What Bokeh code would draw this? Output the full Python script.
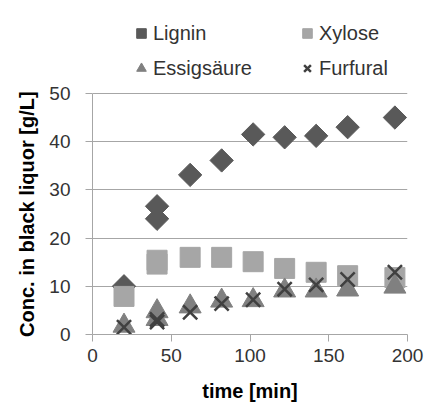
import math
from bokeh.plotting import figure
from bokeh.models import Legend, LegendItem
from bokeh.embed import file_html
from bokeh.resources import INLINE

# ---- data ----
time_min = [20, 41, 41, 62, 82, 102, 122, 142, 162, 192]
lignin = [10.0, 24.0, 26.6, 33.1, 36.1, 41.5, 40.9, 41.2, 43.0, 45.0]
xylose = [7.9, 14.6, 15.4, 16.0, 16.0, 15.1, 13.7, 12.9, 12.2, 11.8]
essigsaeure = [1.8, 3.2, 4.8, 5.8, 7.0, 7.1, 9.1, 9.1, 9.3, 9.9]
furfural = [1.5, 2.6, 3.1, 4.6, 6.4, 7.2, 9.4, 10.3, 11.4, 12.9]
x_ticks = [0, 50, 100, 150, 200]
y_ticks = [0, 10, 20, 30, 40, 50]
series_names = ["Lignin", "Xylose", "Essigsäure", "Furfural"]
x_title = "time [min]"
y_title = "Conc. in black liquor [g/L]"

FONT = "Liberation Sans"

# frame extends above y=50 to hold the legend; the axis itself is bounded to 0..50
p = figure(width=433, height=404, x_range=(0, 200), y_range=(0, 67.2),
           output_backend="svg", toolbar_location=None,
           min_border_left=92, min_border_right=26,
           min_border_top=10, min_border_bottom=70)
p.outline_line_color = None
p.background_fill_color = "white"
p.border_fill_color = "white"

r_lig = p.scatter(time_min, lignin, marker="square", size=16.5, angle=math.pi / 4,
                  fill_color="#595959", line_color="#595959")
r_xyl = p.scatter(time_min, xylose, marker="square", size=20,
                  fill_color="#a6a6a6", line_color="#a6a6a6")
r_ess = p.scatter(time_min, essigsaeure, marker="triangle", size=22,
                  fill_color="#808080", line_color="#808080")
r_fur = p.scatter(time_min, furfural, marker="x", size=20,
                  line_color="#404040", line_width=2.5)

# axes
for ax in (p.xaxis[0], p.yaxis[0]):
    ax.axis_line_color = "#a6a6a6"
    ax.major_tick_line_color = "#a6a6a6"
    ax.major_tick_out = 7
    ax.major_tick_in = 0
    ax.minor_tick_line_color = None
    ax.major_label_text_font = FONT
    ax.major_label_text_font_size = "19px"
    ax.major_label_text_color = "#333333"
    ax.axis_label_text_font = FONT
    ax.axis_label_text_font_size = "20px"
    ax.axis_label_text_font_style = "bold"
    ax.axis_label_text_color = "#000000"

p.xaxis.ticker = x_ticks
p.yaxis.ticker = y_ticks
p.yaxis.bounds = (0, 50)
p.xaxis.axis_label = x_title
# trailing non-breaking spaces centre the title on the 0..50 part of the axis
p.yaxis.axis_label = y_title + "\u00a0" * 15
p.xaxis.major_label_standoff = 7
p.yaxis.major_label_standoff = 15
p.xaxis.axis_label_standoff = 15
p.yaxis.axis_label_standoff = 8

p.xgrid.visible = False
p.ygrid.grid_line_color = "#a6a6a6"
p.ygrid.ticker = y_ticks

legend = Legend(items=[LegendItem(label=series_names[0], renderers=[r_lig]),
                       LegendItem(label=series_names[1], renderers=[r_xyl]),
                       LegendItem(label=series_names[2], renderers=[r_ess]),
                       LegendItem(label=series_names[3], renderers=[r_fur])],
                orientation="horizontal", ncols=2,
                location=(37, 254), margin=0, padding=0,
                glyph_width=24, glyph_height=24, label_standoff=0,
                label_width=131, spacing=11,
                label_text_font=FONT, label_text_font_size="20px",
                label_text_color="#333333",
                border_line_color=None, background_fill_alpha=0)
p.add_layout(legend, "center")

open("out.html", "w").write(file_html(p, INLINE))
